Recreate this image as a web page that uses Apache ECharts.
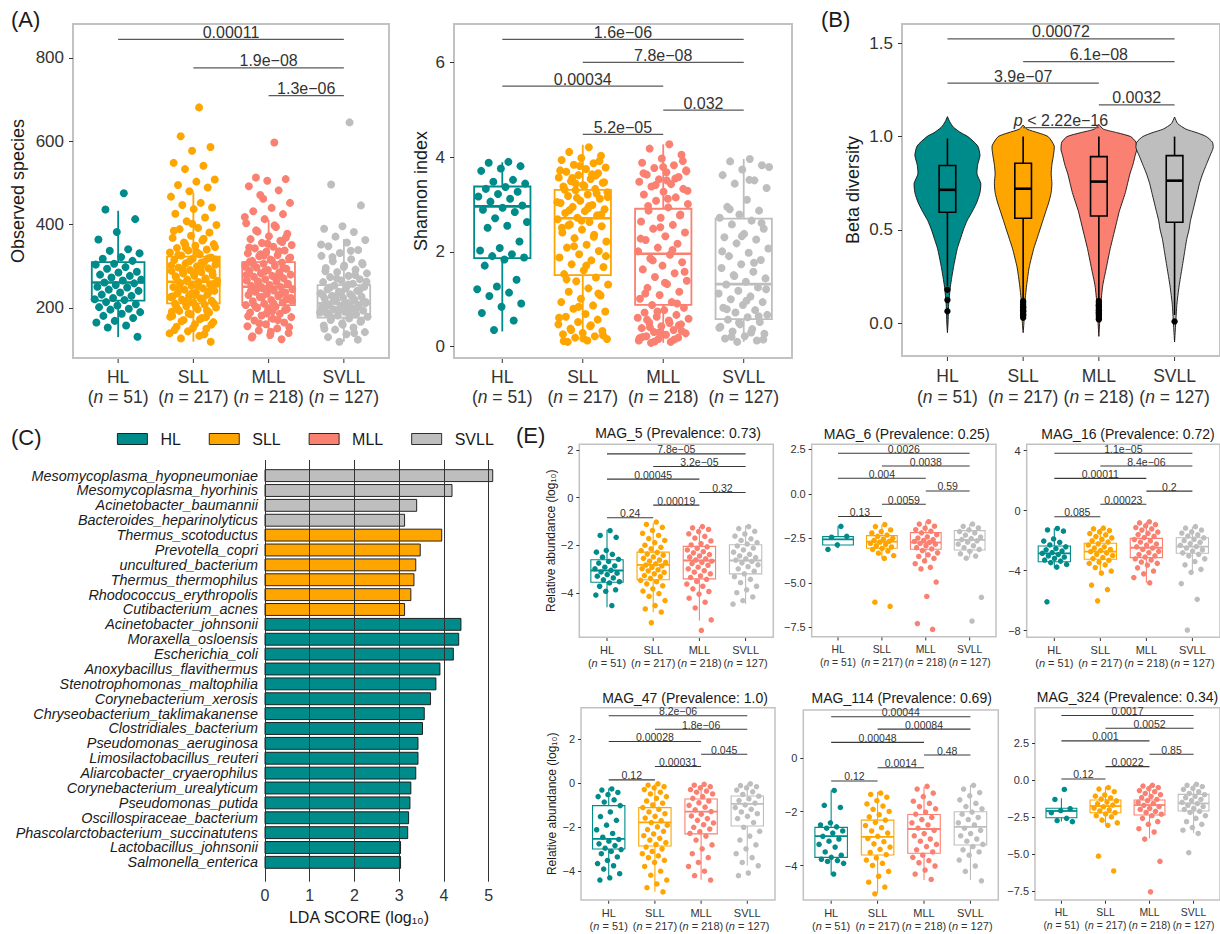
<!DOCTYPE html>
<html><head><meta charset="utf-8">
<script src="https://cdn.jsdelivr.net/npm/echarts@6/dist/echarts.min.js"></script>
<style>html,body{margin:0;padding:0;background:#fff}#c{width:1220px;height:934px}</style>
</head><body><div id="c"></div>
<script>
// ---------------- DATA ----------------
const groups = ['HL','SLL','MLL','SVLL'];
const groupN = [51,217,218,127];

// (A) Observed species
const obsTicks = [200,400,600,800];
const obsBox = [[130,217.5,261,310,433],[119,211,263,323,477],[125,207,251,310,411],[119,177,211,255,365]];
const obsHL = [475,436,413,382,364,341,337,331,322,318,313,306,304,298,294,287,285,280,277,273,268,266,261,259,255,251,249,244,241,237,232,229,224,221,219,214,209,206,202,198,196,190,186,181,176,169,165,158,153,131];
const obsSLL = [681,612,586,577,548,541,533,508,503,495,489,480,467,452,447,441,437,426,417,408,399,392,389,381,373,368,362,357,353,349,344,340,338,333,329,326,321,318,315,310,307,304,300,297,295,291,289,286,283,279,277,274,270,268,265,262,259,256,253,250,247,244,241,237,235,232,229,226,223,220,217,213,211,208,204,201,197,193,189,185,181,176,171,166,161,155,150,144,139,133,127,119,
 402,385,366,352,346,334,327,319,312,302,299,293,287,281,276,271,264,258,252,246,240,234,228,222,216,210,205,199,194,187,179,173,168,160,152,147,137,343,316,289,262,238,214,191,309,284,257,231,203,178];
const obsMLL = [597,513,509,505,492,482,471,452,440,432,425,413,403,394,383,378,372,365,361,356,351,347,343,338,335,331,327,324,319,316,313,309,306,303,301,297,294,291,289,285,283,280,277,275,271,269,266,263,261,258,255,253,250,247,245,242,239,237,234,231,228,226,222,219,216,213,210,207,203,200,197,193,189,186,182,178,174,170,165,161,156,151,146,140,135,129,125,
 462,418,398,386,369,354,345,336,329,321,314,305,296,288,279,272,264,257,249,241,233,226,218,211,204,195,187,180,171,163,154,143,132,358,326,299,273,246,221,198,311,282,251,224,192];
const obsSVLL = [645,496,446,396,390,382,371,363,357,348,339,332,325,317,312,305,302,296,292,286,283,277,274,269,266,262,258,254,251,247,245,241,239,235,233,229,227,224,222,219,217,214,212,209,207,204,202,199,197,194,191,188,185,182,179,175,171,167,163,158,153,148,142,137,130,124,119,
 352,337,322,308,298,288,279,271,263,256,249,243,237,231,226,220,215,210,205,200,195,189,183,177,169,160,150,140,228,212,197,186];
const obsBrackets = [[1,4,844],[2,4,776],[3,4,709]];
const obsPvals = ['0.00011','1.9e\u221208','1.3e\u221206'];

// (A) Shannon index
const shanTicks = [0,2,4,6];
const shanBox = [[0.32,1.87,2.96,3.38,3.89],[0.1,1.51,2.71,3.31,4.26],[0.08,0.88,1.96,2.91,4.27],[0.1,0.58,1.32,2.70,3.96]];
const shanHL = [3.9,3.88,3.81,3.76,3.71,3.52,3.48,3.44,3.37,3.33,3.27,3.22,3.17,3.12,3.06,2.98,2.93,2.89,2.84,2.71,2.63,2.55,2.51,2.22,2.08,2.03,1.95,1.91,1.88,1.84,1.71,1.41,1.27,1.21,1.14,1.07,0.91,0.84,0.71,0.55,0.35];
const shanSLL = [4.21,4.11,4.03,3.98,3.94,3.87,3.84,3.78,3.75,3.69,3.66,3.62,3.57,3.54,3.49,3.46,3.41,3.38,3.33,3.3,3.26,3.21,3.18,3.12,3.08,3.03,2.99,2.95,2.9,2.86,2.82,2.77,2.72,2.69,2.63,2.58,2.54,2.47,2.41,2.36,2.29,2.22,2.15,2.09,2.02,1.95,1.88,1.82,1.74,1.68,1.61,1.53,1.46,1.38,1.31,1.23,1.16,1.08,1.01,0.94,0.87,0.8,0.74,0.69,0.63,0.57,0.52,0.47,0.43,0.38,0.33,0.29,0.26,0.22,0.19,0.16,0.13,0.1,
 3.92,3.81,3.72,3.64,3.56,3.47,3.39,3.31,3.23,3.14,3.05,2.97,2.88,2.79,2.66,2.51,2.32,2.12,1.91,1.71,1.42,1.12,0.84,0.61,0.45,0.35,0.24,0.17,0.12,3.61,3.44,3.16,2.92,2.56];
const shanMLL = [4.27,4.18,4.05,3.97,3.88,3.83,3.77,3.72,3.68,3.63,3.58,3.53,3.48,3.43,3.38,3.33,3.27,3.21,3.15,3.08,3.01,2.94,2.87,2.79,2.72,2.64,2.57,2.49,2.41,2.33,2.25,2.17,2.09,2.01,1.94,1.86,1.78,1.71,1.63,1.55,1.47,1.39,1.32,1.24,1.16,1.09,1.01,0.94,0.88,0.82,0.77,0.72,0.67,0.63,0.59,0.55,0.51,0.47,0.43,0.39,0.35,0.31,0.28,0.25,0.22,0.19,0.16,0.13,0.1,0.08,
 3.92,3.79,3.66,3.55,3.41,3.29,3.12,2.97,2.77,2.52,2.28,2.04,1.82,1.58,1.35,1.12,0.91,0.74,0.61,0.5,0.41,0.33,0.26,0.2,0.15,0.11,3.7,3.51,0.57,0.45,0.3,0.18];
const shanSVLL = [3.96,3.91,3.83,3.74,3.62,3.51,3.44,3.35,3.1,2.95,2.87,2.79,2.72,2.66,2.58,2.49,2.38,2.31,2.26,2.18,2.07,1.98,1.91,1.83,1.74,1.66,1.58,1.51,1.44,1.37,1.31,1.25,1.18,1.12,1.06,1.0,0.94,0.88,0.82,0.77,0.72,0.67,0.62,0.57,0.52,0.47,0.42,0.37,0.32,0.27,0.22,0.17,0.13,0.1,
 3.79,3.52,2.9,2.61,2.33,2.01,1.77,1.49,1.21,0.97,0.79,0.64,0.51,0.4,0.3,0.21,0.15];
const shanBrackets = [[1,4,6.486],[2,4,6.0],[1,3,5.5],[3,4,4.99],[2,3,4.48]];
const shanPvals = ['1.6e\u221206','7.8e\u221208','0.00034','0.032','5.2e\u221205'];

// (B) Beta diversity: violin density profiles [y, half width in group units]
const betaTicks = [0,0.5,1.0,1.5];
const betaViolinHL = [[1.107,0],[1.08,0.03],[1.05,0.08],[1.02,0.18],[1.0,0.27],[0.95,0.40],[0.9,0.43],[0.85,0.40],[0.8,0.39],[0.75,0.44],[0.7,0.43],[0.65,0.39],[0.6,0.33],[0.55,0.26],[0.5,0.21],[0.45,0.17],[0.4,0.13],[0.3,0.08],[0.2,0.04],[0.1,0.016],[0.0,0.008],[-0.05,0]];
const betaViolinSLL = [[1.062,0],[1.04,0.05],[1.02,0.2],[1.0,0.33],[0.95,0.41],[0.9,0.40],[0.85,0.38],[0.8,0.37],[0.75,0.38],[0.7,0.37],[0.65,0.34],[0.6,0.30],[0.55,0.26],[0.5,0.22],[0.45,0.18],[0.4,0.14],[0.3,0.08],[0.2,0.045],[0.1,0.02],[0.0,0.01],[-0.05,0]];
const betaViolinMLL = [[1.065,0],[1.04,0.06],[1.02,0.25],[1.0,0.42],[0.97,0.49],[0.93,0.5],[0.9,0.48],[0.85,0.45],[0.8,0.41],[0.75,0.38],[0.7,0.35],[0.65,0.31],[0.6,0.27],[0.55,0.24],[0.5,0.21],[0.45,0.18],[0.4,0.15],[0.3,0.1],[0.2,0.05],[0.1,0.025],[0.0,0.01],[-0.07,0]];
const betaViolinSVLL = [[1.105,0],[1.07,0.04],[1.04,0.15],[1.02,0.3],[1.0,0.42],[0.97,0.5],[0.94,0.51],[0.9,0.47],[0.85,0.42],[0.8,0.37],[0.75,0.33],[0.7,0.3],[0.65,0.27],[0.6,0.24],[0.55,0.21],[0.5,0.19],[0.45,0.16],[0.4,0.14],[0.3,0.1],[0.2,0.06],[0.1,0.03],[0.0,0.015],[-0.1,0]];
const betaBox = [[0.2,0.595,0.715,0.845,0.99],[0.13,0.563,0.721,0.857,1.0],[0.13,0.575,0.759,0.893,1.0],[0.045,0.541,0.764,0.898,1.0]];
const betaOutliers = [[0.18,0.125,0.065],[0.12,0.11,0.1,0.09,0.085,0.08,0.07,0.065,0.06,0.05,0.045,0.04,0.03],[0.12,0.11,0.1,0.095,0.09,0.08,0.07,0.06,0.055,0.05,0.04,0.03,0.02],[0.01]];
const betaBrackets = [[1,4,1.523],[2,4,1.402],[1,3,1.286],[3,4,1.17],[2,3,1.048]];
const betaPvals = ['0.00072','6.1e\u221208','3.9e\u221207','0.0032','p < 2.22e\u221216'];

// (C) LDA
const ldaNames = ['Mesomycoplasma_hyopneumoniae','Mesomycoplasma_hyorhinis','Acinetobacter_baumannii','Bacteroides_heparinolyticus','Thermus_scotoductus','Prevotella_copri','uncultured_bacterium','Thermus_thermophilus','Rhodococcus_erythropolis','Cutibacterium_acnes','Acinetobacter_johnsonii','Moraxella_osloensis','Escherichia_coli','Anoxybacillus_flavithermus','Stenotrophomonas_maltophilia','Corynebacterium_xerosis','Chryseobacterium_taklimakanense','Clostridiales_bacterium','Pseudomonas_aeruginosa','Limosilactobacillus_reuteri','Aliarcobacter_cryaerophilus','Corynebacterium_urealyticum','Pseudomonas_putida','Oscillospiraceae_bacterium','Phascolarctobacterium_succinatutens','Lactobacillus_johnsonii','Salmonella_enterica'];
const ldaScores = [5.09,4.18,3.39,3.12,3.95,3.47,3.37,3.33,3.26,3.12,4.38,4.33,4.21,3.91,3.82,3.70,3.56,3.52,3.42,3.42,3.37,3.26,3.24,3.21,3.19,3.03,3.03];
const ldaGroup = [3,3,3,3,1,1,1,1,1,1,0,0,0,0,0,0,0,0,0,0,0,0,0,0,0,0,0];
const ldaTicks = [0,1,2,3,4,5];

// (E) MAG panels
const eTitles = ['MAG_5 (Prevalence: 0.73)','MAG_6 (Prevalence: 0.25)','MAG_16 (Prevalence: 0.72)','MAG_47 (Prevalence: 1.0)','MAG_114 (Prevalence: 0.69)','MAG_324 (Prevalence: 0.34)'];
const eTicks = [[-4,-2,0,2],[-7.5,-5,-2.5,0,2.5],[-8,-4,0,4],[-4,-2,0,2],[-4,-2,0],[-7.5,-5,-2.5,0,2.5]];
const eBoxes = [
 [[-4.59,-3.54,-3.05,-2.6,-1.34],[-4.8,-3.44,-2.81,-2.28,-1.06],[-5.15,-3.4,-2.63,-2.04,-1.23],[-4.45,-3.19,-2.63,-1.97,-1.16]],
 [[-3.05,-2.87,-2.55,-2.4,-1.8],[-3.61,-3.05,-2.68,-2.34,-1.74],[-3.9,-3.11,-2.73,-2.17,-1.55],[-3.58,-3.15,-2.58,-2.06,-1.69]],
 [[-3.84,-3.4,-2.84,-2.35,-1.17],[-4.17,-3.24,-2.73,-2.17,-1.17],[-4.8,-3.13,-2.47,-1.84,-0.73],[-4.17,-2.84,-2.4,-1.8,-1.07]],
 [[-4.4,-3.0,-2.54,-1.02,-0.23],[-4.94,-2.86,-1.78,-1.11,-0.03],[-4.4,-2.31,-1.29,-0.72,-0.08],[-3.75,-1.95,-0.94,-0.58,-0.03]],
 [[-4.34,-3.69,-2.9,-2.58,-1.2],[-5.02,-3.6,-2.93,-2.31,-1.26],[-4.53,-3.54,-2.64,-2.1,-1.07],[-4.53,-3.23,-2.56,-2.0,-1.01]],
 [[-2.8,-2.55,-2.09,-1.91,-1.24],[-3.04,-2.21,-1.76,-1.35,-0.45],[-3.94,-2.36,-1.69,-1.35,-0.34],[-3.6,-2.09,-1.58,-0.97,-0.29]]
];
const mag5Pts = [
 [-1.38,-1.58,-1.66,-2.21,-2.28,-2.37,-2.49,-2.58,-2.67,-2.74,-2.86,-2.91,-2.98,-3.04,-3.11,-3.16,-3.22,-3.29,-3.36,-3.44,-3.52,-3.57,-3.71,-3.86,-3.92,-4.08,-4.52],
 [-1.02,-1.12,-1.24,-1.37,-1.49,-1.58,-1.71,-1.79,-1.88,-1.99,-2.08,-2.14,-2.22,-2.29,-2.36,-2.41,-2.48,-2.54,-2.61,-2.66,-2.71,-2.77,-2.82,-2.86,-2.92,-2.97,-3.02,-3.07,-3.13,-3.19,-3.26,-3.31,-3.38,-3.46,-3.52,-3.61,-3.69,-3.82,-3.91,-4.02,-4.13,-4.31,-4.52,-4.66,-4.79,-5.24],
 [-1.21,-1.26,-1.33,-1.42,-1.51,-1.62,-1.69,-1.81,-1.92,-1.98,-2.06,-2.12,-2.19,-2.26,-2.31,-2.38,-2.44,-2.49,-2.56,-2.61,-2.66,-2.71,-2.76,-2.83,-2.91,-2.98,-3.06,-3.12,-3.19,-3.28,-3.34,-3.42,-3.51,-3.62,-3.71,-3.82,-3.93,-4.04,-4.21,-4.38,-4.62,-5.12,-5.56],
 [-1.21,-1.29,-1.41,-1.52,-1.61,-1.72,-1.79,-1.88,-1.94,-2.02,-2.11,-2.19,-2.28,-2.37,-2.44,-2.51,-2.56,-2.62,-2.67,-2.73,-2.81,-2.89,-2.98,-3.08,-3.19,-3.31,-3.42,-3.56,-3.71,-3.86,-3.98,-4.16,-4.31,-4.46]
];
const mag6Pts = [
 [-1.82,-2.43,-2.38,-2.86,-3.12],
 [-1.72,-1.83,-2.02,-2.11,-2.19,-2.31,-2.38,-2.49,-2.54,-2.61,-2.66,-2.71,-2.77,-2.83,-2.91,-2.98,-3.06,-3.12,-3.21,-3.33,-3.46,-3.62,-6.08,-6.31],
 [-1.56,-1.69,-1.81,-1.92,-2.01,-2.09,-2.18,-2.29,-2.41,-2.48,-2.56,-2.61,-2.67,-2.72,-2.78,-2.82,-2.91,-3.02,-3.09,-3.18,-3.31,-3.42,-3.51,-3.62,-3.76,-3.92,-4.12,-4.21,-4.95,-5.76,-7.28,-7.61],
 [-1.69,-1.82,-1.91,-2.02,-2.11,-2.19,-2.31,-2.42,-2.51,-2.56,-2.63,-2.71,-2.82,-2.91,-3.02,-3.12,-3.22,-3.36,-3.49,-3.61,-5.81,-7.14]
];
const mag16Pts = [
 [-1.18,-1.28,-1.36,-1.88,-2.02,-2.11,-2.28,-2.41,-2.52,-2.61,-2.69,-2.79,-2.84,-2.92,-3.01,-3.09,-3.18,-3.29,-3.36,-3.46,-3.58,-3.76,-6.07],
 [-1.16,-1.21,-1.32,-1.41,-1.52,-1.61,-1.72,-1.81,-1.91,-2.01,-2.09,-2.21,-2.29,-2.41,-2.49,-2.58,-2.66,-2.72,-2.81,-2.91,-2.99,-3.12,-3.19,-3.31,-3.42,-3.51,-3.61,-3.79,-4.02,-4.16,-4.96,-5.26,-6.01],
 [-0.74,-0.81,-0.92,-1.01,-1.12,-1.21,-1.29,-1.42,-1.51,-1.59,-1.71,-1.79,-1.92,-2.01,-2.09,-2.22,-2.29,-2.41,-2.49,-2.58,-2.71,-2.79,-2.92,-3.01,-3.09,-3.21,-3.29,-3.42,-3.51,-3.62,-3.81,-4.02,-4.21,-4.46,-4.81],
 [-1.06,-1.16,-1.29,-1.41,-1.49,-1.61,-1.69,-1.81,-1.91,-1.99,-2.11,-2.19,-2.31,-2.39,-2.49,-2.61,-2.69,-2.81,-2.91,-3.01,-3.21,-3.39,-3.61,-3.91,-4.11,-4.86,-5.91,-7.96]
];
const mag47Pts = [
 [-0.26,-0.31,-0.42,-0.52,-0.61,-0.76,-0.86,-1.02,-1.31,-1.52,-1.69,-1.91,-2.12,-2.29,-2.46,-2.56,-2.64,-2.76,-2.84,-2.96,-3.02,-3.11,-3.21,-3.36,-3.52,-3.66,-3.76,-3.91,-4.12,-4.31,-4.41],
 [-0.03,-0.09,-0.16,-0.21,-0.29,-0.41,-0.49,-0.61,-0.69,-0.81,-0.91,-0.99,-1.11,-1.19,-1.31,-1.39,-1.51,-1.59,-1.71,-1.79,-1.91,-1.99,-2.11,-2.19,-2.31,-2.39,-2.51,-2.59,-2.71,-2.79,-2.91,-2.99,-3.11,-3.21,-3.31,-3.39,-3.51,-3.61,-3.79,-4.01,-4.19,-4.41,-4.59,-4.76,-4.95],
 [-0.05,-0.09,-0.16,-0.21,-0.29,-0.36,-0.41,-0.49,-0.61,-0.69,-0.81,-0.89,-1.01,-1.09,-1.21,-1.29,-1.41,-1.49,-1.61,-1.69,-1.81,-1.89,-2.01,-2.09,-2.21,-2.29,-2.41,-2.59,-2.81,-2.99,-3.21,-3.39,-3.61,-3.79,-4.01,-4.21,-4.41],
 [-0.03,-0.11,-0.16,-0.21,-0.31,-0.39,-0.51,-0.59,-0.71,-0.79,-0.91,-0.99,-1.11,-1.19,-1.31,-1.39,-1.51,-1.61,-1.79,-2.01,-2.19,-2.41,-2.59,-2.81,-2.99,-3.21,-3.39,-3.61,-3.76,-4.09,-4.21]
];
const mag114Pts = [
 [-1.21,-1.76,-1.84,-2.41,-2.49,-2.56,-2.61,-2.71,-2.79,-2.91,-3.01,-3.09,-3.21,-3.31,-3.49,-3.61,-3.69,-3.76,-3.81,-3.84,-3.91,-4.31],
 [-1.31,-1.36,-1.46,-1.59,-1.71,-1.79,-1.91,-1.99,-2.11,-2.19,-2.31,-2.39,-2.51,-2.59,-2.71,-2.79,-2.91,-2.99,-3.11,-3.19,-3.31,-3.39,-3.51,-3.59,-3.71,-3.79,-3.91,-3.99,-4.21,-4.39,-4.61,-4.79,-5.04],
 [-1.06,-1.16,-1.31,-1.44,-1.61,-1.69,-1.81,-1.89,-2.01,-2.09,-2.21,-2.29,-2.41,-2.49,-2.61,-2.69,-2.81,-2.89,-3.01,-3.09,-3.21,-3.29,-3.41,-3.49,-3.61,-3.69,-3.81,-3.89,-4.01,-4.16,-4.31,-4.51],
 [-1.02,-1.16,-1.29,-1.41,-1.56,-1.69,-1.81,-1.89,-2.01,-2.09,-2.21,-2.29,-2.41,-2.49,-2.61,-2.69,-2.81,-2.89,-3.01,-3.09,-3.21,-3.29,-3.41,-3.49,-3.61,-3.79,-4.01,-4.21,-4.56]
];
const mag324Pts = [
 [-0.64,-1.31,-1.94,-2.06,-2.21,-2.59,-2.74,-2.81],
 [-0.51,-0.61,-0.79,-1.01,-1.09,-1.21,-1.29,-1.41,-1.49,-1.61,-1.69,-1.81,-1.89,-2.01,-2.09,-2.21,-2.29,-2.41,-2.49,-2.71,-2.89,-3.06,-5.14,-6.14],
 [-0.36,-0.41,-0.51,-0.59,-0.71,-0.79,-0.91,-0.99,-1.11,-1.19,-1.31,-1.39,-1.51,-1.59,-1.71,-1.79,-1.91,-1.99,-2.11,-2.19,-2.31,-2.41,-2.59,-2.81,-2.99,-3.29,-3.51,-3.99,-5.49,-7.55],
 [-0.29,-0.36,-0.44,-0.56,-0.64,-0.79,-0.91,-0.99,-1.11,-1.19,-1.31,-1.39,-1.51,-1.59,-1.71,-1.79,-1.91,-1.99,-2.11,-2.19,-2.41,-2.59,-2.81,-2.99,-3.21,-3.39,-3.61,-4.91]
];
const eBracketPairs = [[1,4],[2,4],[1,3],[3,4],[2,3],[1,2]];
const eBracketY = [[1.84,1.31,0.78,0.22,-0.31,-0.84],[2.29,1.57,0.88,0.17,-0.58,-1.27],[3.83,2.98,2.16,1.31,0.43,-0.4],[3.07,2.46,1.9,1.32,0.76,0.15],[1.52,1.06,0.57,0.1,-0.37,-0.86],[4.35,3.49,2.64,1.74,0.9,0.07]];
const ePvals = [
 ['7.8e\u221205','3.2e\u221205','0.00045','0.32','0.00019','0.24'],
 ['0.0026','0.0038','0.004','0.59','0.0059','0.13'],
 ['1.1e\u221205','8.4e\u221206','0.00011','0.2','0.00023','0.085'],
 ['8.2e\u221206','1.8e\u221206','0.00028','0.045','0.00031','0.12'],
 ['0.00044','0.00084','0.00048','0.48','0.0014','0.12'],
 ['0.0017','0.0052','0.001','0.85','0.0022','0.12']
];

// ---------------- STYLE / LAYOUT ----------------
const FONT = '"Liberation Sans", Arial, Helvetica, sans-serif';
const groupColors = ['#008B8B','#FFA500','#FA8072','#BEBEBE'];
const MINUS = '\u2212';
const fmtNum = (v, d) => (v < 0 ? MINUS : '') + Math.abs(v).toFixed(d);
const jitter = (i, w) => ((((i + 1) * 0.6180339887) % 1) - 0.5) * 2 * w;

const styA = {bw:2, tick:4, xMargin:5, xFont:17.5, xLH:20, yFont:17, yMargin:9, nameFont:18, boxLw:1.8, medLw:2.6, ptSize:8, jw:0.32, brFs:16, brLw:1.3, brLc:'#5a5a5a'};
const styB = Object.assign({}, styA, {xLH:21});
const styE = {bw:1.5, tick:3, xMargin:3, xFont:11, xLH:13, yFont:11, yMargin:6, nameFont:12, boxLw:1.1, medLw:1.8, ptSize:5.5, jw:0.28, brFs:10.5, brLw:1.1, brLc:'#3a3a3a'};
const styEn = Object.assign({}, styE, {xFont:10.4});

const layoutObs = {left:73, top:24, width:316, height:334, ymin:80, ymax:881};
const layoutShan = {left:454, top:24, width:338, height:334, ymin:-0.24, ymax:6.81};
const layoutBeta = {left:902, top:24, width:322, height:332, ymin:-0.175, ymax:1.603};
const layoutLda = {left:265, top:460, width:223.7, height:421.7, ymin:-1.05, ymax:27.3};
const layoutE = [
 {left:579.3, top:444.3, width:194, height:193, ymin:-5.85, ymax:2.24, name:true, gap:20, sty:styE},
 {left:811.7, top:444.3, width:184.3, height:192.4, ymin:-8.02, ymax:2.79, sty:styEn},
 {left:1026.7, top:444.3, width:194.5, height:193, ymin:-8.44, ymax:4.43, sty:styE},
 {left:581, top:707.7, width:194, height:192.3, ymin:-5.32, ymax:3.44, name:true, gap:23, sty:styE},
 {left:803.3, top:710, width:195, height:190, ymin:-5.27, ymax:1.77, sty:styE},
 {left:1035, top:707.7, width:185.6, height:192.3, ymin:-8.1, ymax:4.88, sty:styEn}
];
const eTitlePos = [[678,433],[906.7,434],[1128,434],[685,698.3],[901.7,697.7],[1127.5,696.7]];
const eDec = [0,1,0,0,0,1];

// ---------------- BUILD ----------------
const grids = [], xAxes = [], yAxes = [], series = [];

function addPanel(lay, sty, ticks, dec, yName, nameGap) {
  const gi = grids.length;
  grids.push({left:lay.left, top:lay.top, width:lay.width, height:lay.height, show:true,
    borderColor:'#C2C2C2', borderWidth:sty.bw, backgroundColor:'transparent'});
  const txt = {fill:'#333', fontFamily:FONT, fontSize:sty.xFont, lineHeight:sty.xLH};
  xAxes.push({type:'value', gridIndex:gi, min:0.4, max:4.6, show:false});
  yAxes.push({type:'value', gridIndex:gi, min:lay.ymin, max:lay.ymax, position:'left',
    axisLine:{show:false, onZero:false}, splitLine:{show:false},
    axisTick:{show:true, customValues:ticks, length:sty.tick, lineStyle:{color:'#333', width:1}},
    axisLabel:{customValues:ticks, margin:sty.yMargin, fontSize:sty.yFont, color:'#333', fontFamily:FONT,
      showMinLabel:true, showMaxLabel:true, formatter: v => fmtNum(v, dec)},
    name: yName || '', nameLocation:'middle', nameGap: nameGap || 20,
    nameTextStyle:{fontSize:sty.nameFont, color:'#1a1a1a', fontFamily:FONT}});
  series.push({type:'custom', name:'xlab_' + gi, xAxisIndex:gi, yAxisIndex:gi, z:3, silent:true, clip:false,
    data: groups.map((_, i) => [i + 1, lay.ymin]),
    renderItem: (params, api) => {
      const i = params.dataIndex;
      const p = api.coord([api.value(0), api.value(1)]);
      const y0 = p[1] + sty.bw / 2;
      return {type:'group', children:[
        {type:'line', shape:{x1:p[0], y1:y0, x2:p[0], y2:y0 + sty.tick}, style:{stroke:'#333', lineWidth:1}},
        {type:'text', x:p[0], y:p[1] + sty.tick + sty.xMargin,
          style:{text:'{g|' + groups[i] + '}\n{p|(}{i|n}{p| = ' + groupN[i] + ')}', align:'center', verticalAlign:'top',
            fontSize:sty.xFont, fontFamily:FONT, fill:'#333',
            rich:{g:txt, p:txt, i:Object.assign({}, txt, {fontStyle:'italic'})}}}
      ]};
    }});
  return gi;
}

function addPoints(gi, ptsList, sty) {
  ptsList.forEach((vals, k) => {
    series.push({type:'scatter', name:'pts_' + gi + '_' + k, xAxisIndex:gi, yAxisIndex:gi,
      symbolSize:sty.ptSize, silent:true, z:2, itemStyle:{color:groupColors[k], opacity:1},
      data: vals.map((v, i) => [k + 1 + jitter(i, sty.jw), v])});
  });
}

function addBoxes(gi, stats, opt) {
  series.push({type:'custom', name:'box_' + gi, xAxisIndex:gi, yAxisIndex:gi, z:4, silent:true, clip:false,
    data: stats.map((s, i) => [i + 1, s[0], s[1], s[2], s[3], s[4]]),
    renderItem: (params, api) => {
      const x = api.value(0);
      const pMin = api.coord([x, api.value(1)]), pQ1 = api.coord([x, api.value(2)]),
            pMed = api.coord([x, api.value(3)]), pQ3 = api.coord([x, api.value(4)]),
            pMax = api.coord([x, api.value(5)]);
      const hw = api.size([opt.bwid, 0])[0] / 2;
      const col = opt.color || groupColors[params.dataIndex];
      const st = {stroke:col, lineWidth:opt.lw, fill:'none'};
      const cx = pMed[0];
      return {type:'group', children:[
        {type:'line', shape:{x1:cx, y1:pQ3[1], x2:cx, y2:pMax[1]}, style:st},
        {type:'line', shape:{x1:cx, y1:pQ1[1], x2:cx, y2:pMin[1]}, style:st},
        {type:'rect', shape:{x:cx - hw, y:pQ3[1], width:2 * hw, height:pQ1[1] - pQ3[1]}, style:st},
        {type:'line', shape:{x1:cx - hw, y1:pMed[1], x2:cx + hw, y2:pMed[1]}, style:{stroke:col, lineWidth:opt.mlw}}
      ]};
    }});
}

function addBrackets(gi, pairs, ys, labels, sty) {
  series.push({type:'custom', name:'br_' + gi, xAxisIndex:gi, yAxisIndex:gi, z:6, silent:true, clip:false,
    data: pairs.map((p, i) => [p[0], ys[i], p[1]]),
    renderItem: (params, api) => {
      const p1 = api.coord([api.value(0), api.value(1)]), p2 = api.coord([api.value(2), api.value(1)]);
      const lab = labels[params.dataIndex];
      const base = {fontSize:sty.brFs, fontFamily:FONT, fill:'#333'};
      const text = lab.indexOf('p ') === 0 ? '{i|p}{t|' + lab.slice(1) + '}' : '{t|' + lab + '}';
      return {type:'group', children:[
        {type:'line', shape:{x1:p1[0], y1:p1[1], x2:p2[0], y2:p2[1]}, style:{stroke:sty.brLc, lineWidth:sty.brLw}},
        {type:'text', x:(p1[0] + p2[0]) / 2, y:p1[1] + 1,
          style:Object.assign({text:text, align:'center', verticalAlign:'bottom',
            rich:{i:Object.assign({}, base, {fontStyle:'italic'}), t:base}}, base)}
      ]};
    }});
}

// (A) Observed species
const gObs = addPanel(layoutObs, styA, obsTicks, 0, 'Observed species', 46);
addPoints(gObs, [obsHL, obsSLL, obsMLL, obsSVLL], styA);
addBoxes(gObs, obsBox, {bwid:0.7, lw:styA.boxLw, mlw:styA.medLw});
addBrackets(gObs, obsBrackets.map(b => [b[0], b[1]]), obsBrackets.map(b => b[2]), obsPvals, styA);

// (A) Shannon
const gShan = addPanel(layoutShan, styA, shanTicks, 0, 'Shannon index', 24);
addPoints(gShan, [shanHL, shanSLL, shanMLL, shanSVLL], styA);
addBoxes(gShan, shanBox, {bwid:0.7, lw:styA.boxLw, mlw:styA.medLw});
addBrackets(gShan, shanBrackets.map(b => [b[0], b[1]]), shanBrackets.map(b => b[2]), shanPvals, styA);

// (B) Beta diversity
const gBeta = addPanel(layoutBeta, styB, betaTicks, 1, 'Beta diversity', 40);
const violins = [betaViolinHL, betaViolinSLL, betaViolinMLL, betaViolinSVLL];
series.push({type:'custom', name:'violin', xAxisIndex:gBeta, yAxisIndex:gBeta, z:2, silent:true, clip:false,
  data: violins.map((p, i) => [i + 1, p[0][0]]),
  renderItem: (params, api) => {
    const x = api.value(0), prof = violins[params.dataIndex];
    const right = prof.map(d => api.coord([x + d[1], d[0]]));
    const left = prof.slice().reverse().map(d => api.coord([x - d[1], d[0]]));
    return {type:'polygon', shape:{points:right.concat(left), smooth:0.2},
      style:{fill:groupColors[params.dataIndex], stroke:'#111', lineWidth:0.9}};
  }});
addBoxes(gBeta, betaBox, {bwid:0.22, lw:1.6, mlw:2.6, color:'#000'});
// outliers: drawn as circles of a custom series bound to the Beta panel only
const betaOutData = [];
betaOutliers.forEach((vals, k) => vals.forEach(v => betaOutData.push([k + 1, v])));
series.push({type:'custom', name:'betaOutliers', xAxisIndex:gBeta, yAxisIndex:gBeta, z:5, silent:true, clip:true,
  data: betaOutData,
  renderItem: (params, api) => {
    const p = api.coord([api.value(0), api.value(1)]);
    return {type:'circle', shape:{cx:p[0], cy:p[1], r:3.2}, style:{fill:'#000'}};
  }});
addBrackets(gBeta, betaBrackets.map(b => [b[0], b[1]]), betaBrackets.map(b => b[2]), betaPvals, styA);

// (C) LDA
const cg = grids.length;
grids.push({left:layoutLda.left, top:layoutLda.top, width:layoutLda.width, height:layoutLda.height, show:false});
xAxes.push({type:'value', gridIndex:cg, min:0, max:5, interval:1, z:5, position:'bottom',
  axisLine:{show:false, onZero:false}, axisTick:{show:false},
  splitLine:{show:true, lineStyle:{color:'#333', width:1}},
  axisLabel:{customValues:ldaTicks, fontSize:16, color:'#333', margin:6, fontFamily:FONT, showMinLabel:true, showMaxLabel:true}});
yAxes.push({type:'value', gridIndex:cg, inverse:true, min:layoutLda.ymin, max:layoutLda.ymax, position:'left',
  axisLine:{show:false, onZero:false}, axisTick:{show:false}, splitLine:{show:false},
  axisLabel:{customValues:ldaNames.map((_, i) => i), formatter: v => ldaNames[Math.round(v)] || '',
    showMinLabel:true, showMaxLabel:true,
    fontStyle:'italic', fontSize:14.4, color:'#1a1a1a', margin:7, fontFamily:FONT}});
groups.forEach((name, k) => {
  const items = ldaScores.map((s, i) => [s, i]).filter((d, i) => ldaGroup[i] === k);
  series.push({type:'custom', name:name, xAxisIndex:cg, yAxisIndex:cg, z:2, silent:true, clip:false,
    itemStyle:{color:groupColors[k]}, data:items,
    renderItem: (params, api) => {
      const v = api.value(0), i = api.value(1);
      const a = api.coord([0, i - 0.4]), b = api.coord([v, i + 0.4]);
      return {type:'rect', shape:{x:a[0], y:Math.min(a[1], b[1]), width:b[0] - a[0], height:Math.abs(b[1] - a[1])},
        style:{fill:groupColors[k], stroke:'#111', lineWidth:0.9}};
    }});
});

// (E) MAG panels
const ePts = [mag5Pts, mag6Pts, mag16Pts, mag47Pts, mag114Pts, mag324Pts];
layoutE.forEach((lay, p) => {
  const gi = addPanel(lay, lay.sty, eTicks[p], eDec[p], lay.name ? 'Relative abundance (log\u2081\u2080)' : '', lay.gap);
  addPoints(gi, ePts[p], lay.sty);
  addBoxes(gi, eBoxes[p], {bwid:0.7, lw:styE.boxLw, mlw:styE.medLw});
  addBrackets(gi, eBracketPairs, eBracketY[p], ePvals[p], styE);
});

// free text
function txt(text, x, y, fs, align) {
  return {type:'text', x:x, y:y, silent:true, z:10,
    style:{text:text, fontSize:fs, fontFamily:FONT, fill:'#1a1a1a', align:align, verticalAlign:'middle'}};
}
const graphics = [
  txt('(A)', 11, 19, 22, 'left'),
  txt('(B)', 821, 19, 22, 'left'),
  txt('(C)', 11, 437.5, 22, 'left'),
  txt('(E)', 516, 435, 22, 'left'),
  txt('LDA SCORE (log\u2081\u2080)', 359, 917, 16, 'center')
].concat(eTitles.map((t, i) => txt(t, eTitlePos[i][0], eTitlePos[i][1], 14, 'center')));

const option = {
  animation:false,
  backgroundColor:'#ffffff',
  textStyle:{fontFamily:FONT},
  legend:{show:true, left:117, top:431, padding:0, itemWidth:30, itemHeight:11, itemGap:28, selectedMode:false,
    textStyle:{fontSize:16, color:'#1a1a1a', fontFamily:FONT, padding:[0,0,0,8]},
    data: groups.map((n, k) => ({name:n, icon:'rect', itemStyle:{color:groupColors[k], borderColor:'#000', borderWidth:0.8}}))},
  grid:grids, xAxis:xAxes, yAxis:yAxes, series:series, graphic:graphics
};

const chart = echarts.init(document.getElementById('c'), null, {renderer:'svg', width:1220, height:934});
chart.setOption(option);
</script></body></html>
